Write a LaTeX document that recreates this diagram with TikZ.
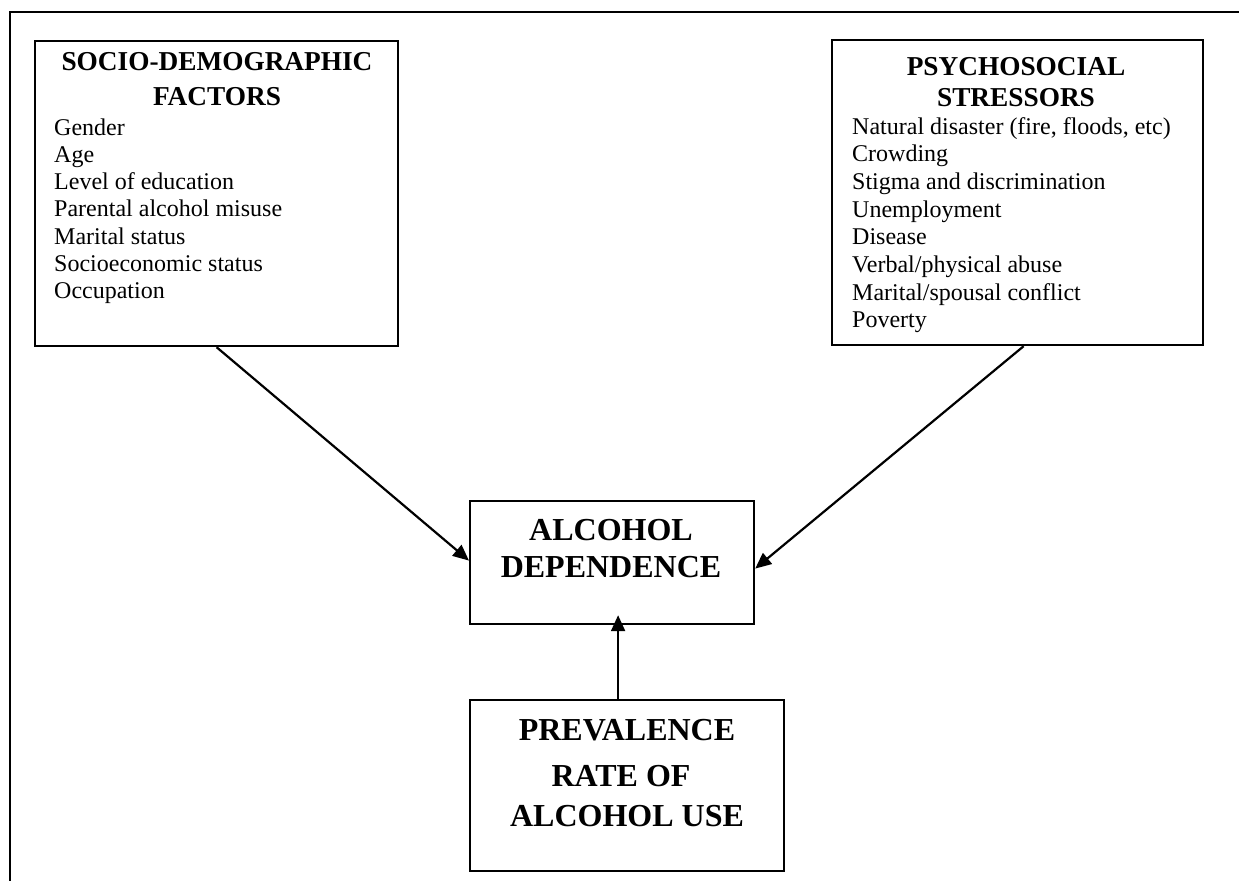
\documentclass[tikz,border=0pt]{standalone}
\usepackage{fontspec}
\setmainfont{Liberation Serif}
\usetikzlibrary{arrows.meta}
\begin{document}
\begin{tikzpicture}[x=1pt,y=-1pt,
  box/.style={draw,line width=2.2pt,rectangle,inner sep=0pt,anchor=north west},
  conn/.style={line width=2.2pt,-{Triangle[length=16pt,width=14pt]}},
  hdr/.style={inner sep=0pt,anchor=base,font=\fontsize{27.3}{31}\selectfont\bfseries},
  item/.style={inner sep=0pt,anchor=base west,font=\fontsize{24}{28}\selectfont},
  big/.style={inner sep=0pt,anchor=base,font=\fontsize{32}{37}\selectfont\bfseries}]
\useasboundingbox (0,0) rectangle (1239,881);
% outer frame (top and left lines)
\coordinate (ftl) at (10,12);
\coordinate (ftr) at (1239,12);
\coordinate (fbl) at (10,881);
\draw[line width=2.6pt] (ftr) -- (ftl) -- (fbl);
% boxes
\node[box,minimum width=363pt,minimum height=305pt] (lbox) at (34,40) {};
\node[box,minimum width=371pt,minimum height=305pt] (rbox) at (831,39) {};
\node[box,minimum width=284pt,minimum height=123pt] (cbox) at (469,500) {};
\node[box,minimum width=314pt,minimum height=171pt] (bbox) at (469,699) {};
% left box text
\node[hdr] (lh1) at (217,70) {SOCIO-DEMOGRAPHIC};
\node[hdr] (lh2) at (217,105) {FACTORS};
\foreach \t [count=\i from 0] in {Gender,Age,Level of education,Parental alcohol misuse,Marital status,Socioeconomic status,Occupation}
  \node[item] (li\i) at (54,135+27.3*\i) {\t};
% right box text
\node[hdr] (rh1) at (1016,75) {PSYCHOSOCIAL};
\node[hdr] (rh2) at (1016,106) {STRESSORS};
\foreach \t [count=\i from 0] in {{Natural disaster (fire, floods, etc)},Crowding,Stigma and discrimination,Unemployment,Disease,Verbal/physical abuse,Marital/spousal conflict,Poverty}
  \node[item] (ri\i) at (852,134+27.7*\i) {\t};
% centre box text
\node[big] (c1) at (611,540) {ALCOHOL};
\node[big] (c2) at (611,577) {DEPENDENCE};
% bottom box text
\node[big] (b1) at (627,740) {PREVALENCE};
\node[big] (b2) at (621,786) {RATE OF};
\node[big] (b3) at (627,826) {ALCOHOL USE};
% connectors
\draw[conn] (lbox.south) -- ([yshift=2pt]cbox.west);
\draw[conn] ([xshift=6pt]rbox.south) -- ([yshift=-6pt]cbox.east);
\draw[conn] ([xshift=-9pt]bbox.north) -- ([xshift=6pt,yshift=10pt]cbox.south);
\end{tikzpicture}
\end{document}
